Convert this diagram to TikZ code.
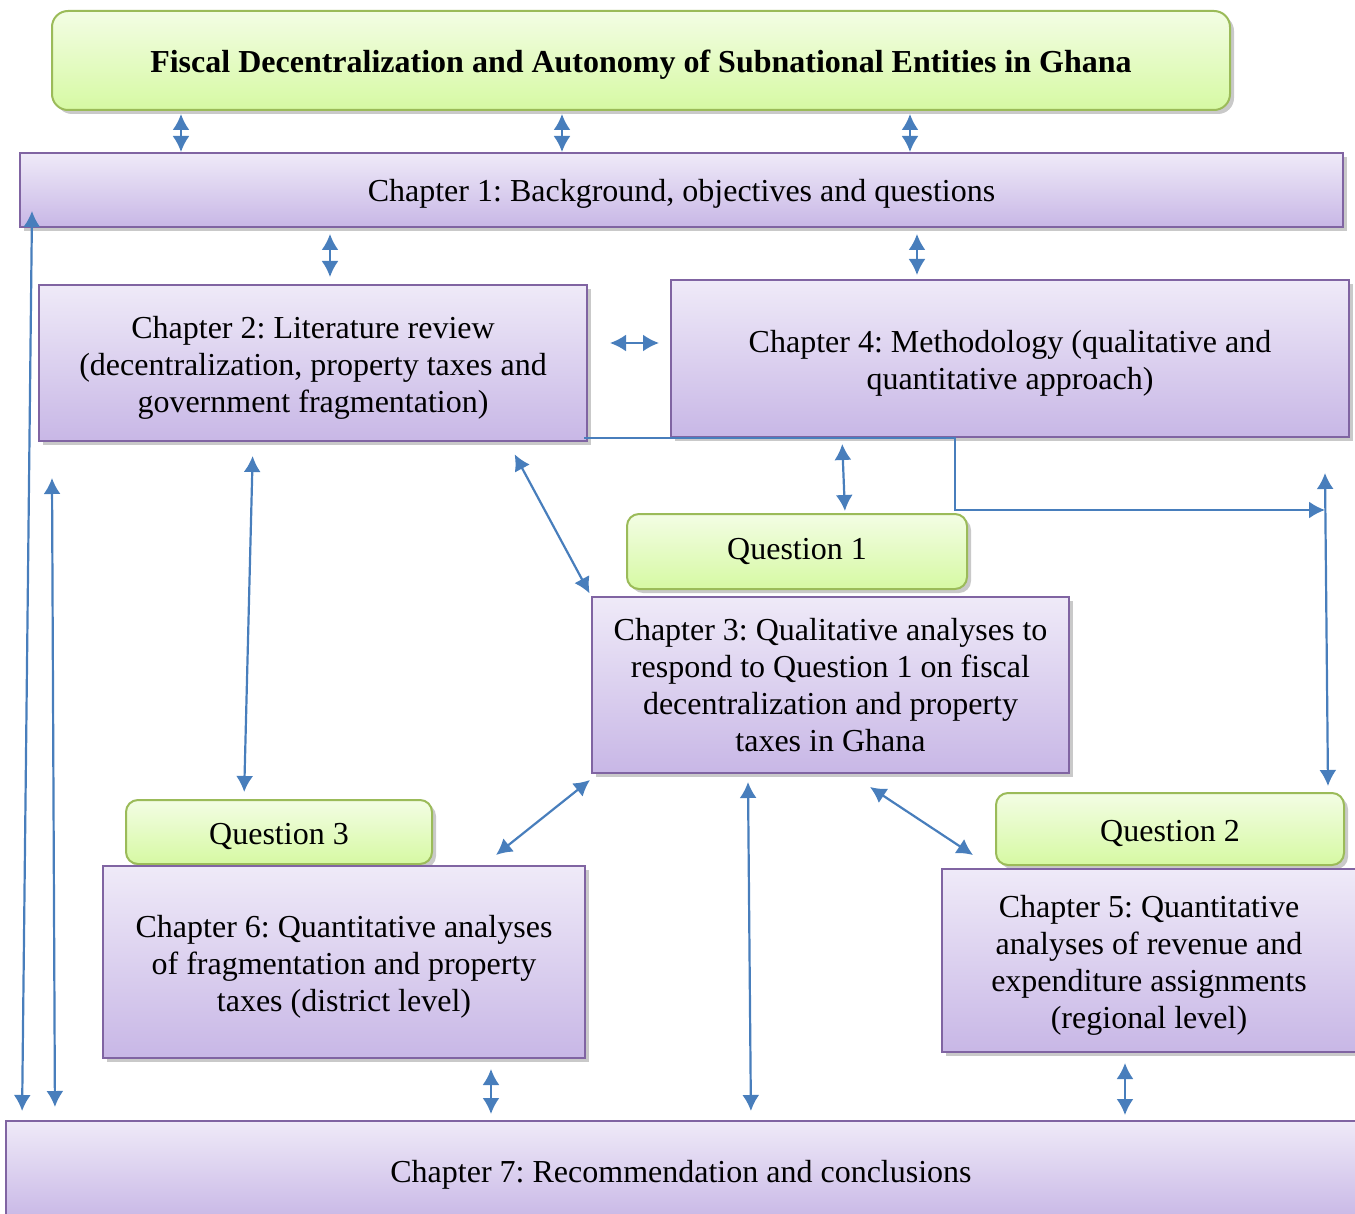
\documentclass[tikz,border=0pt]{standalone}
\usepackage{fontspec}
\setmainfont{Liberation Serif}
\usetikzlibrary{arrows.meta,shadows,positioning}
\definecolor{boxline}{RGB}{128,100,162}
\definecolor{boxtop}{RGB}{239,234,248}
\definecolor{boxbot}{RGB}{200,183,230}
\definecolor{qline}{RGB}{155,187,89}
\definecolor{qtop}{RGB}{243,253,228}
\definecolor{qbot}{RGB}{214,249,163}
\definecolor{arrowblue}{RGB}{72,126,188}
\frenchspacing
\newcommand\topgap{\rule{0pt}{16pt}}

\tikzset{
	softshadow/.style={drop shadow={shadow xshift=2pt,shadow yshift=-2pt,opacity=0.3,fill=black!70}},
	chapbox/.style={draw=boxline,line width=1pt,top color=boxtop,bottom color=boxbot,
		align=center,inner sep=0pt,softshadow},
	qbox/.style={draw=qline,line width=1pt,rounded corners=6pt,top color=qtop,bottom color=qbot,
		align=center,inner sep=0pt,softshadow},
	lowtext/.style={execute at begin node={\rule{0pt}{#1}}},
	dblarrow/.style={{Latex[length=8pt,width=8.5pt]}-{Latex[length=8pt,width=8.5pt]},draw=arrowblue,line width=1.1pt},
	linkarrow/.style={-{Latex[length=8pt,width=8.5pt]},draw=arrowblue,line width=1.1pt}
}

\begin{document}
\begin{tikzpicture}[x=0.5pt,y=-0.5pt,font=\fontsize{16}{18.5}\selectfont]
\useasboundingbox (0,0) rectangle (1355,1214);

% boxes
\node[qbox,lowtext=15pt,rounded corners=8pt,minimum width=589pt,minimum height=49.5pt,font=\fontsize{16}{18}\selectfont\bfseries]
	(title) at (641,60.5) {Fiscal Decentralization and Autonomy of Subnational Entities in Ghana};
\node[chapbox,lowtext=14.5pt,minimum width=661.5pt,minimum height=37pt] (ch1) at (681.5,190)
	{Chapter 1: Background, objectives and questions};
\node[chapbox,minimum width=274pt,minimum height=78pt] (ch2) at (313,363)
	{\topgap Chapter 2: Literature review\\(decentralization, property taxes and\\government fragmentation)};
\node[chapbox,minimum width=339pt,minimum height=78.5pt] (ch4) at (1010,358.5)
	{\topgap Chapter 4: Methodology (qualitative and\\quantitative approach)};
\node[qbox,minimum width=170pt,minimum height=37.5pt] (q1) at (797,551.5) {Question 1};
\node[chapbox,minimum width=238.5pt,minimum height=88pt] (ch3) at (830.5,685)
	{Chapter 3: Qualitative analyses to\\respond to Question 1 on fiscal\\decentralization and property\\taxes in Ghana};
\node[qbox,lowtext=15pt,minimum width=153pt,minimum height=32pt] (q3) at (279,832) {Question 3};
\node[chapbox,minimum width=241pt,minimum height=96pt] (ch6) at (344,962)
	{\topgap Chapter 6: Quantitative analyses\\of fragmentation and property\\taxes (district level)};
\node[qbox,lowtext=15pt,minimum width=174pt,minimum height=36pt] (q2) at (1170,829) {Question 2};
\node[chapbox,minimum width=207pt,minimum height=91.5pt] (ch5) at (1149,960.5)
	{\topgap Chapter 5: Quantitative\\analyses of revenue and\\expenditure assignments\\(regional level)};
\node[chapbox,lowtext=14.5pt,minimum width=675pt,minimum height=50pt] (ch7) at (681,1171)
	{Chapter 7: Recommendation and conclusions};

% connectors
\foreach \x in {181,562,910}{
	\draw[dblarrow,shorten <=1.5pt] (\x,0 |- title.south) -- (\x,0 |- ch1.north);
}
\draw[dblarrow,shorten <=3pt,shorten >=3.5pt] (330,0 |- ch1.south) -- (330,0 |- ch2.north);
\draw[dblarrow,shorten <=3pt,shorten >=2pt] (917,0 |- ch1.south) -- (917,0 |- ch4.north);
\draw[dblarrow,shorten <=11pt,shorten >=5.5pt] (ch2.east |- 0,343) -- (ch4.west |- 0,343);
\draw[dblarrow,shorten <=3pt,shorten >=1pt] (842,0 |- ch4.south) -- (845,0 |- q1.north);

\coordinate (rtop) at (1325,473);
\coordinate (rbot) at (1328,786);
\draw[linkarrow,line width=1pt] ([xshift=-2pt]ch2.south east |- ch4.south) -- (955,0 |- ch4.south)
	-- (955,510) -- (rtop |- 0,510);
\draw[dblarrow] (rtop) -- (rbot);

\draw[dblarrow,shorten <=7pt,shorten >=3.5pt] (253,0 |- ch2.south) -- (244,0 |- q3.north);
\draw[dblarrow,shorten <=7pt,shorten >=1.5pt] (508,0 |- ch2.south) -- (ch3.north west);
\draw[dblarrow] (590,780) -- (496,855);
\draw[dblarrow,shorten >=4.5pt] (748,782) -- (751,0 |- ch7.north);
\draw[dblarrow] (870,787) -- (973,855);
\draw[dblarrow,shorten <=5pt,shorten >=3pt] (491,0 |- ch6.south) -- (491,0 |- ch7.north);
\draw[dblarrow,shorten <=5pt,shorten >=2.5pt] (1125,0 |- ch5.south) -- (1125,0 |- ch7.north);

% long lines on the left
\draw[dblarrow,shorten >=4.5pt] (32,211) -- (22,0 |- ch7.north);
\draw[dblarrow,shorten >=6.5pt] (52,478) -- (55,0 |- ch7.north);

\end{tikzpicture}
\end{document}
